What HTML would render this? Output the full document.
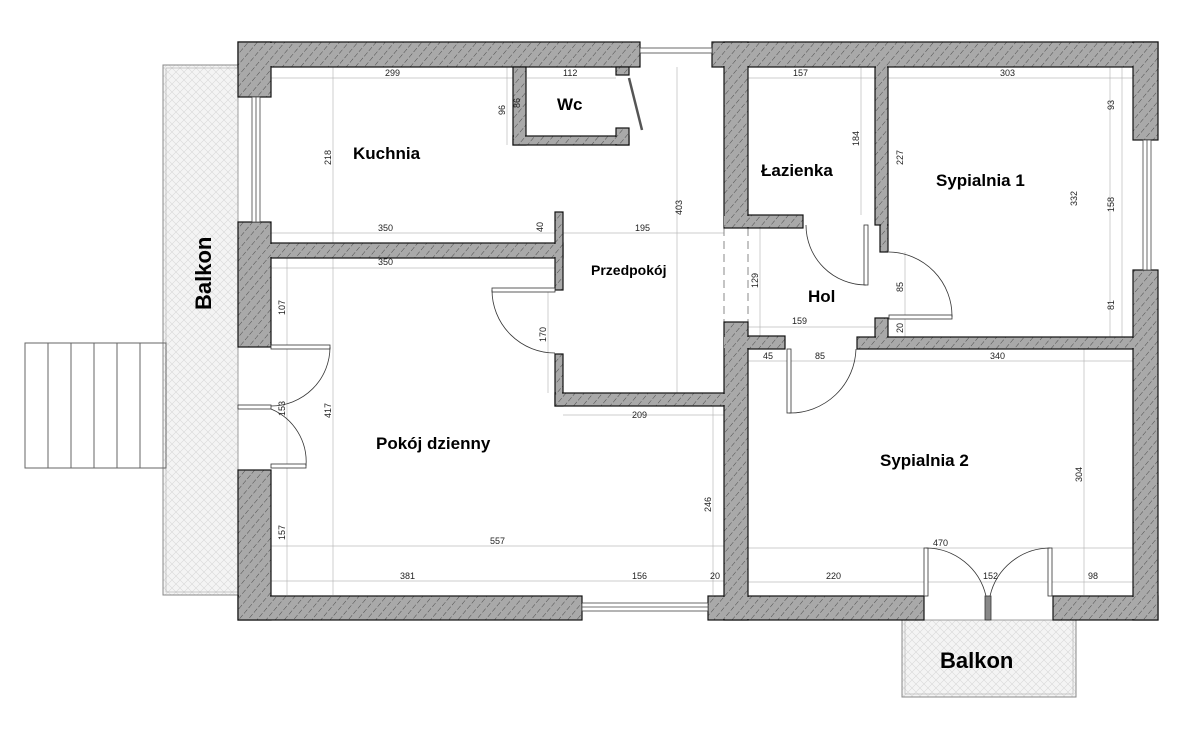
<!DOCTYPE html>
<html><head><meta charset="utf-8"><style>
html,body{margin:0;padding:0;background:#fff;}
svg{display:block;}
.d{font-family:"Liberation Sans",sans-serif;font-size:9px;fill:#222;}
.l{font-family:"Liberation Sans",sans-serif;font-weight:bold;fill:#000;}
</style></head><body>
<svg width="1200" height="750" viewBox="0 0 1200 750" xmlns="http://www.w3.org/2000/svg">
<defs>
<pattern id="h" width="7" height="7" patternUnits="userSpaceOnUse" patternTransform="rotate(40)">
<rect width="7" height="7" fill="#a9a9a9"/><line x1="0" y1="0" x2="0" y2="7" stroke="#444" stroke-width="0.9" stroke-dasharray="5,2"/>
</pattern>
<pattern id="x" width="8" height="8" patternUnits="userSpaceOnUse">
<rect width="8" height="8" fill="#f4f4f4"/><path d="M0,0L8,8M8,0L0,8" stroke="#d8d8d8" stroke-width="0.6"/>
</pattern>
</defs>
<rect x="163" y="65" width="75" height="530" fill="url(#x)" stroke="#888" stroke-width="1"/>
<rect x="166" y="68" width="72" height="524" fill="none" stroke="#aaa" stroke-width="0.6"/>
<rect x="902" y="620" width="174" height="77" fill="url(#x)" stroke="#888" stroke-width="1"/>
<rect x="905" y="620" width="168" height="74" fill="none" stroke="#aaa" stroke-width="0.6"/>
<g stroke="#666" stroke-width="1" fill="none">
<rect x="25" y="343" width="141" height="125"/>
<line x1="48" y1="343" x2="48" y2="468"/><line x1="71" y1="343" x2="71" y2="468"/><line x1="94" y1="343" x2="94" y2="468"/><line x1="117" y1="343" x2="117" y2="468"/><line x1="140" y1="343" x2="140" y2="468"/>
</g>
<g stroke="#bbb" stroke-width="0.7" fill="none">
<line x1="271" y1="78" x2="513" y2="78"/><line x1="527" y1="78" x2="616" y2="78"/>
<line x1="748" y1="78" x2="875" y2="78"/><line x1="888" y1="78" x2="1133" y2="78"/>
<line x1="271" y1="233" x2="724" y2="233"/>
<line x1="271" y1="268" x2="555" y2="268"/>
<line x1="748" y1="327" x2="875" y2="327"/>
<line x1="748" y1="361" x2="1133" y2="361"/>
<line x1="563" y1="415" x2="724" y2="415"/>
<line x1="271" y1="546" x2="724" y2="546"/>
<line x1="271" y1="581" x2="724" y2="581"/>
<line x1="748" y1="548" x2="1133" y2="548"/>
<line x1="748" y1="582" x2="1133" y2="582"/>
<line x1="333" y1="67" x2="333" y2="243"/><line x1="507" y1="67" x2="507" y2="145"/>
<line x1="677" y1="67" x2="677" y2="393"/><line x1="861" y1="67" x2="861" y2="215"/>
<line x1="1110" y1="67" x2="1110" y2="337"/><line x1="1122" y1="67" x2="1122" y2="337"/>
<line x1="287" y1="258" x2="287" y2="595"/><line x1="333" y1="258" x2="333" y2="595"/>
<line x1="713" y1="406" x2="713" y2="595"/><line x1="1084" y1="349" x2="1084" y2="595"/>
<line x1="760" y1="228" x2="760" y2="337"/><line x1="905" y1="252" x2="905" y2="337"/>
<line x1="548" y1="290" x2="548" y2="393"/>
</g>
<line x1="724" y1="228" x2="724" y2="322" stroke="#888" stroke-dasharray="8,5"/>
<line x1="748" y1="228" x2="748" y2="322" stroke="#888" stroke-dasharray="8,5"/>
<g id="walls" fill="url(#h)" stroke="#111" stroke-width="1.2">
<rect x="238" y="42" width="402" height="25"/>
<rect x="712" y="42" width="446" height="25"/>
<rect x="238" y="42" width="33" height="55"/>
<rect x="238" y="222" width="33" height="125"/>
<rect x="238" y="470" width="33" height="150"/>
<rect x="238" y="596" width="344" height="24"/>
<rect x="708" y="596" width="216" height="24"/>
<rect x="1053" y="596" width="105" height="24"/>
<rect x="1133" y="42" width="25" height="98"/>
<rect x="1133" y="270" width="25" height="350"/>
<rect x="724" y="42" width="24" height="186"/>
<rect x="724" y="322" width="24" height="298"/>
<rect x="271" y="243" width="292" height="15"/>
<rect x="555" y="212" width="8" height="78"/>
<rect x="555" y="354" width="8" height="52"/>
<rect x="555" y="393" width="169" height="13"/>
<rect x="513" y="67" width="13" height="78"/>
<rect x="513" y="136" width="116" height="9"/>
<rect x="616" y="67" width="13" height="8"/>
<rect x="616" y="128" width="13" height="17"/>
<rect x="748" y="215" width="55" height="13"/>
<rect x="875" y="67" width="13" height="158"/>
<rect x="880" y="225" width="8" height="27"/>
<rect x="748" y="336" width="37" height="13"/>
<rect x="857" y="337" width="276" height="12"/>
<rect x="875" y="318" width="13" height="19"/>
</g>
<g fill="url(#h)" stroke="none">
<rect x="239" y="43" width="400" height="23"/>
<rect x="713" y="43" width="444" height="23"/>
<rect x="239" y="43" width="31" height="53"/>
<rect x="239" y="597" width="342" height="22"/>
<rect x="239" y="471" width="31" height="148"/>
<rect x="709" y="597" width="214" height="22"/>
<rect x="1054" y="597" width="103" height="22"/>
<rect x="1134" y="43" width="23" height="96"/>
<rect x="1134" y="271" width="23" height="348"/>
<rect x="725" y="43" width="22" height="184"/>
<rect x="725" y="323" width="22" height="296"/>
<rect x="239" y="244" width="323" height="13"/>
<rect x="556" y="213" width="6" height="76"/>
<rect x="556" y="355" width="6" height="50"/>
<rect x="556" y="394" width="169" height="11"/>
<rect x="514" y="68" width="11" height="76"/>
<rect x="514" y="137" width="114" height="7"/>
<rect x="617" y="129" width="11" height="15"/>
<rect x="724" y="216" width="78" height="11"/>
<rect x="876" y="66" width="11" height="158"/>
<rect x="881" y="224" width="6" height="27"/>
<rect x="724" y="337" width="60" height="11"/>
<rect x="858" y="338" width="276" height="10"/>
<rect x="876" y="319" width="11" height="19"/>
</g>
<g fill="#fff" stroke="#444" stroke-width="0.8">
<rect x="252" y="97" width="8" height="125"/><line x1="256" y1="97" x2="256" y2="222"/>
<rect x="582" y="603" width="126" height="8"/><line x1="582" y1="607" x2="708" y2="607"/>
<rect x="1143" y="140" width="8" height="130"/><line x1="1147" y1="140" x2="1147" y2="270"/>
<rect x="640" y="48" width="72" height="5"/>
</g>
<g fill="none" stroke="#333" stroke-width="0.8">
<rect x="271" y="345" width="59" height="4" fill="#fff"/>
<path d="M330,347 A59,59 0 0 1 271,406"/>
<rect x="271" y="464" width="35" height="4" fill="#fff"/>
<rect x="238" y="405" width="33" height="4" fill="#fff"/>
<path d="M306,466 A57,57 0 0 0 271,409"/>
<rect x="492" y="288" width="63" height="4" fill="#fff"/>
<path d="M492,290 A63,63 0 0 0 555,353"/>
<rect x="864" y="225" width="4" height="60" fill="#fff"/>
<path d="M806,225 A60,60 0 0 0 866,285"/>
<rect x="889" y="315" width="63" height="4" fill="#fff"/>
<path d="M889,252 A64,64 0 0 1 952,317"/>
<rect x="787" y="349" width="4" height="64" fill="#fff"/>
<path d="M789,413 A66,66 0 0 0 856,349"/>
<path d="M629,78 L642,130" stroke-width="2.5" stroke="#555"/>
<rect x="924" y="548" width="4" height="48" fill="#fff"/>
<path d="M926,548 A62,62 0 0 1 986,596"/>
<rect x="1048" y="548" width="4" height="48" fill="#fff"/>
<path d="M1050,548 A62,62 0 0 0 990,596"/>
<rect x="985" y="596" width="6" height="24" fill="#888"/>
</g>
<g class="d">
<text x="385" y="76">299</text><text x="563" y="76">112</text>
<text x="793" y="76">157</text><text x="1000" y="76">303</text>
<text x="378" y="231">350</text><text x="635" y="231">195</text>
<text x="378" y="265">350</text><text x="792" y="324">159</text>
<text x="763" y="359">45</text><text x="815" y="359">85</text><text x="990" y="359">340</text>
<text x="632" y="418">209</text><text x="490" y="544">557</text>
<text x="400" y="579">381</text><text x="632" y="579">156</text><text x="710" y="579">20</text>
<text x="933" y="546">470</text><text x="826" y="579">220</text><text x="983" y="579">152</text><text x="1088" y="579">98</text>
</g>
<g class="d">
<text transform="translate(331,165) rotate(-90)">218</text>
<text transform="translate(505,115) rotate(-90)">96</text>
<text transform="translate(520,108) rotate(-90)">86</text>
<text transform="translate(543,232) rotate(-90)">40</text>
<text transform="translate(682,215) rotate(-90)">403</text>
<text transform="translate(859,146) rotate(-90)">184</text>
<text transform="translate(903,165) rotate(-90)">227</text>
<text transform="translate(1077,206) rotate(-90)">332</text>
<text transform="translate(1114,110) rotate(-90)">93</text>
<text transform="translate(1114,212) rotate(-90)">158</text>
<text transform="translate(1114,310) rotate(-90)">81</text>
<text transform="translate(758,288) rotate(-90)">129</text>
<text transform="translate(903,292) rotate(-90)">85</text>
<text transform="translate(903,333) rotate(-90)">20</text>
<text transform="translate(285,315) rotate(-90)">107</text>
<text transform="translate(285,416) rotate(-90)">153</text>
<text transform="translate(331,418) rotate(-90)">417</text>
<text transform="translate(285,540) rotate(-90)">157</text>
<text transform="translate(546,342) rotate(-90)">170</text>
<text transform="translate(711,512) rotate(-90)">246</text>
<text transform="translate(1082,482) rotate(-90)">304</text>
</g>
<g class="l">
<text x="353" y="159" font-size="17">Kuchnia</text>
<text x="557" y="110" font-size="17">Wc</text>
<text x="761" y="176" font-size="17">Łazienka</text>
<text x="936" y="186" font-size="17">Sypialnia 1</text>
<text x="591" y="275" font-size="14">Przedpokój</text>
<text x="808" y="302" font-size="17">Hol</text>
<text x="376" y="449" font-size="17">Pokój dzienny</text>
<text x="880" y="466" font-size="17">Sypialnia 2</text>
<text x="940" y="668" font-size="22">Balkon</text>
<text transform="translate(211,310) rotate(-90)" font-size="22">Balkon</text>
</g>
</svg>
</body></html>
